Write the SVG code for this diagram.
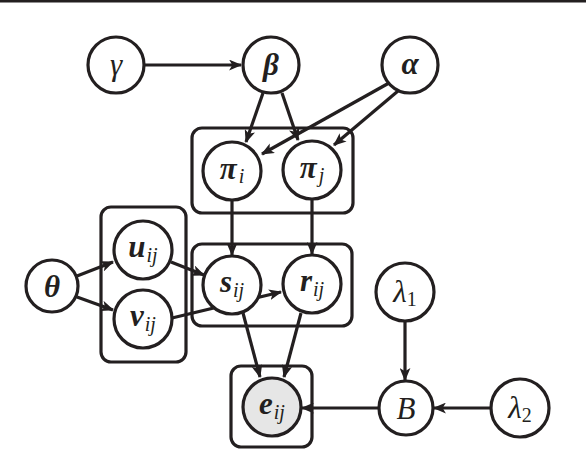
<svg xmlns="http://www.w3.org/2000/svg" width="586" height="450" viewBox="0 0 586 450">
<style>
.n{fill:#fff;stroke:#231f20;stroke-width:3.2}
.obs{fill:#e6e6e6}
.pl{fill:none;stroke:#231f20;stroke-width:3.2}
.e{stroke:#231f20;stroke-width:3.2;fill:none;marker-end:url(#ah)}
.b{font-weight:bold}
.s{font-size:20px;font-weight:normal}
.r{font-style:normal}
</style>
<defs>
<marker id="ah" viewBox="0 0 12 10" refX="11" refY="5" markerWidth="13" markerHeight="11" markerUnits="userSpaceOnUse" orient="auto">
<path d="M0,0 L12,5 L0,10 L3,5 Z" fill="#231f20"/>
</marker>
</defs>
<rect x="0" y="0" width="586" height="2.5" fill="#231f20"/>
<g id="plates">
<rect class="pl" x="192" y="128" width="161" height="85" rx="10"/>
<rect class="pl" x="101" y="207" width="85" height="155" rx="10"/>
<rect class="pl" x="192" y="244" width="160" height="82" rx="10"/>
<rect class="pl" x="231" y="366" width="81" height="81" rx="10"/>
</g>
<g id="connectors">
<line class="e" x1="145" y1="65" x2="241" y2="65"/>
<line class="e" x1="263" y1="93" x2="246" y2="142"/>
<line class="e" x1="282" y1="93" x2="298" y2="140"/>
<line class="e" x1="389" y1="83" x2="262" y2="154"/>
<line class="e" x1="398" y1="91" x2="334" y2="145"/>
<line class="e" x1="232" y1="201" x2="232" y2="255"/>
<line class="e" x1="312" y1="199" x2="312" y2="254"/>
<line class="e" x1="77" y1="276" x2="113" y2="262"/>
<line class="e" x1="77" y1="297" x2="113" y2="310"/>
<line class="e" x1="171" y1="262" x2="204" y2="275"/>
<line class="e" x1="172" y1="318" x2="281" y2="292"/>
<line class="e" x1="243" y1="313" x2="260" y2="377"/>
<line class="e" x1="301" y1="313" x2="284" y2="377"/>
<line class="e" x1="405" y1="322" x2="405" y2="380"/>
<line class="e" x1="491" y1="408" x2="434" y2="408"/>
<line class="e" x1="378" y1="408" x2="302" y2="408"/>
</g>
<g font-family="Liberation Serif, serif" font-style="italic" font-size="31" fill="#231f20" text-anchor="middle">
<g id="gamma"><circle class="n" cx="116" cy="65" r="28"/><text x="116" y="75">γ</text></g>
<g id="beta"><circle class="n" cx="271" cy="65" r="28"/><text class="b" x="271" y="75">β</text></g>
<g id="alpha"><circle class="n" cx="410" cy="65" r="28"/><text class="b" x="410" y="74">α</text></g>
<g id="pi_i"><circle class="n" cx="232" cy="171" r="29"/><text x="232" y="179"><tspan class="b">π</tspan><tspan class="s" dx="2" dy="4">i</tspan></text></g>
<g id="pi_j"><circle class="n" cx="312" cy="170" r="29"/><text x="312" y="178"><tspan class="b">π</tspan><tspan class="s" dx="2" dy="4">j</tspan></text></g>
<g id="theta"><circle class="n" cx="52" cy="286" r="26"/><text class="b" x="52" y="297">θ</text></g>
<g id="u_ij"><circle class="n" cx="143" cy="250" r="29"/><text x="143" y="257"><tspan class="b">u</tspan><tspan class="s" dx="1" dy="5">ij</tspan></text></g>
<g id="v_ij"><circle class="n" cx="143" cy="319" r="29"/><text x="143" y="326"><tspan class="b">v</tspan><tspan class="s" dx="1" dy="5">ij</tspan></text></g>
<g id="s_ij"><circle class="n" cx="232" cy="285" r="29"/><text x="232" y="292"><tspan class="b">s</tspan><tspan class="s" dx="1" dy="5">ij</tspan></text></g>
<g id="r_ij"><circle class="n" cx="312" cy="284" r="29"/><text x="312" y="291"><tspan class="b">r</tspan><tspan class="s" dx="1" dy="5">ij</tspan></text></g>
<g id="e_ij"><circle class="n obs" cx="272" cy="407" r="29"/><text x="272" y="414"><tspan class="b">e</tspan><tspan class="s" dx="1" dy="5">ij</tspan></text></g>
<g id="lambda1"><circle class="n" cx="405" cy="292" r="29"/><text x="405" y="302"><tspan>λ</tspan><tspan class="s r" dy="4">1</tspan></text></g>
<g id="B"><circle class="n" cx="406" cy="408" r="27"/><text x="406" y="419">B</text></g>
<g id="lambda2"><circle class="n" cx="520" cy="408" r="29"/><text x="520" y="418"><tspan>λ</tspan><tspan class="s r" dy="4">2</tspan></text></g>
</g>
</svg>
